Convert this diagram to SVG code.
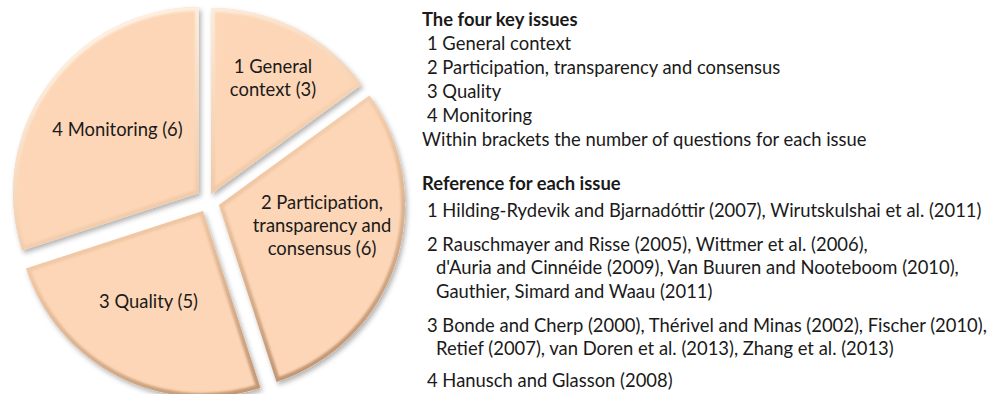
<svg xmlns="http://www.w3.org/2000/svg" xmlns:xlink="http://www.w3.org/1999/xlink" width="989" height="394" viewBox="0 0 989 394">
  <style>
    .lbl { font-family: Lato, "Open Sans", "Liberation Sans", sans-serif; font-size: 18.4px; fill: #1a1a1a; }
    .mid { text-anchor: middle; }
    .hd { font-weight: bold; }
    .slice { fill: #FCD6B6; }
    .rim { fill: none; stroke: url(#rimGrad); stroke-width: 8; }
  </style>
  <defs>
    <!-- exploded pie slices: 3, 6, 5, 6 questions out of 20 -->
    <path id="s1" d="M211,194 L211,8 A186,186 0 0 1 361.5,84.7 Z"/>
    <path id="s2" d="M219,205 L369.5,95.6 A186,186 0 0 1 276.5,381.9 Z"/>
    <path id="s3" d="M203,211 L260.5,387.9 A186,186 0 0 1 26.1,268.5 Z"/>
    <path id="s4" d="M199,193 L22.1,250.5 A186,186 0 0 1 199,7 Z"/>
    <clipPath id="c1"><use xlink:href="#s1"/></clipPath>
    <clipPath id="c2"><use xlink:href="#s2"/></clipPath>
    <clipPath id="c3"><use xlink:href="#s3"/></clipPath>
    <clipPath id="c4"><use xlink:href="#s4"/></clipPath>
    <linearGradient id="rimGrad" gradientUnits="userSpaceOnUse" x1="120" y1="10" x2="280" y2="390">
      <stop offset="0" stop-color="#FFF3E6"/>
      <stop offset="0.5" stop-color="#F1C9A6"/>
      <stop offset="1" stop-color="#BF9472"/>
    </linearGradient>
    <filter id="shadow" x="-10%" y="-10%" width="130%" height="130%">
      <feDropShadow dx="2" dy="3" stdDeviation="2.5" flood-color="#000" flood-opacity="0.3"/>
    </filter>
    <filter id="soft" x="-5%" y="-5%" width="110%" height="110%">
      <feGaussianBlur stdDeviation="1.2"/>
    </filter>
  </defs>

  <rect width="989" height="394" fill="#ffffff"/>

  <g id="pie">
    <g id="slice-1">
      <use xlink:href="#s1" class="slice" filter="url(#shadow)"/>
      <g clip-path="url(#c1)"><use xlink:href="#s1" class="rim" filter="url(#soft)"/></g>
      <text class="lbl mid" x="273" y="73">1 General</text>
      <text class="lbl mid" x="273" y="96">context (3)</text>
    </g>
    <g id="slice-2">
      <use xlink:href="#s2" class="slice" filter="url(#shadow)"/>
      <g clip-path="url(#c2)"><use xlink:href="#s2" class="rim" filter="url(#soft)"/></g>
      <text class="lbl mid" x="322" y="209">2 Participation,</text>
      <text class="lbl mid" x="322" y="232">transparency and</text>
      <text class="lbl mid" x="322" y="255">consensus (6)</text>
    </g>
    <g id="slice-3">
      <use xlink:href="#s3" class="slice" filter="url(#shadow)"/>
      <g clip-path="url(#c3)"><use xlink:href="#s3" class="rim" filter="url(#soft)"/></g>
      <text class="lbl mid" x="148.5" y="308">3 Quality (5)</text>
    </g>
    <g id="slice-4">
      <use xlink:href="#s4" class="slice" filter="url(#shadow)"/>
      <g clip-path="url(#c4)"><use xlink:href="#s4" class="rim" filter="url(#soft)"/></g>
      <text class="lbl mid" x="117.5" y="136">4 Monitoring (6)</text>
    </g>
  </g>

  <g id="legend-issues">
    <text class="lbl hd" x="422" y="26">The four key issues</text>
    <text class="lbl" x="427" y="50">1 General context</text>
    <text class="lbl" x="427" y="74">2 Participation, transparency and consensus</text>
    <text class="lbl" x="427" y="98">3 Quality</text>
    <text class="lbl" x="427" y="122">4 Monitoring</text>
    <text class="lbl" x="422" y="146">Within brackets the number of questions for each issue</text>
  </g>

  <g id="legend-references">
    <text class="lbl hd" x="422" y="190">Reference for each issue</text>
    <text class="lbl" x="427" y="217">1 Hilding-Rydevik and Bjarnadóttir (2007), Wirutskulshai et al. (2011)</text>
    <text class="lbl" x="427" y="251">2 Rauschmayer and Risse (2005), Wittmer et al. (2006),</text>
    <text class="lbl" x="436" y="274">d'Auria and Cinnéide (2009), Van Buuren and Nooteboom (2010),</text>
    <text class="lbl" x="436" y="298">Gauthier, Simard and Waau (2011)</text>
    <text class="lbl" x="427" y="332">3 Bonde and Cherp (2000), Thérivel and Minas (2002), Fischer (2010),</text>
    <text class="lbl" x="436" y="355">Retief (2007), van Doren et al. (2013), Zhang et al. (2013)</text>
    <text class="lbl" x="427" y="387">4 Hanusch and Glasson (2008)</text>
  </g>
</svg>
